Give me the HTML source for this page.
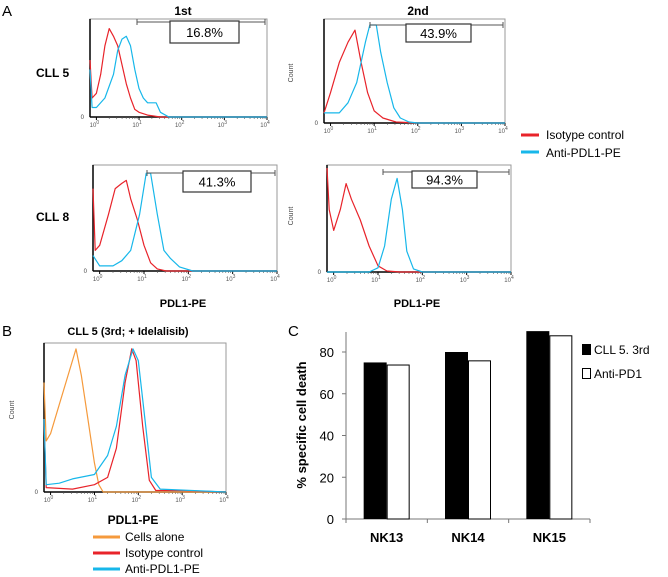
<!DOCTYPE html>
<html><head><meta charset="utf-8"><style>
body{margin:0;background:#fff}
svg{display:block;font-family:"Liberation Sans",sans-serif}
.b{font-weight:bold}
</style></head><body>
<svg id="s" width="668" height="577" viewBox="0 0 668 577">
<text x="2" y="16" font-size="15">A</text>
<text x="183" y="15" font-size="12" class="b" text-anchor="middle">1st</text>
<text x="418" y="15" font-size="12" class="b" text-anchor="middle">2nd</text>
<text x="36" y="77" font-size="12" class="b">CLL 5</text>
<text x="36" y="221" font-size="12" class="b">CLL 8</text>
<text x="183" y="307" font-size="11" class="b" text-anchor="middle">PDL1-PE</text>
<text x="417" y="307" font-size="11" class="b" text-anchor="middle">PDL1-PE</text>
<text x="293" y="73" font-size="7" fill="#444" transform="rotate(-90 293 73)" text-anchor="middle">Count</text>
<text x="293" y="216" font-size="7" fill="#444" transform="rotate(-90 293 216)" text-anchor="middle">Count</text>
<line x1="521" y1="135" x2="539" y2="135" stroke="#e8232a" stroke-width="3"/>
<text x="546" y="139" font-size="12">Isotype control</text>
<line x1="521" y1="152" x2="539" y2="152" stroke="#17b7ea" stroke-width="3"/>
<text x="546" y="157" font-size="12">Anti-PDL1-PE</text>

<text x="2" y="336" font-size="15">B</text>
<text x="128" y="335" font-size="11" class="b" text-anchor="middle">CLL 5 (3rd; + Idelalisib)</text>
<text x="14" y="410" font-size="7" fill="#444" transform="rotate(-90 14 410)" text-anchor="middle">Count</text>
<text x="133" y="524" font-size="12" class="b" text-anchor="middle">PDL1-PE</text>
<line x1="93" y1="537" x2="120" y2="537" stroke="#f59a3c" stroke-width="3"/>
<text x="125" y="541" font-size="12">Cells alone</text>
<line x1="93" y1="553" x2="120" y2="553" stroke="#e8232a" stroke-width="3"/>
<text x="125" y="557" font-size="12">Isotype control</text>
<line x1="93" y1="569" x2="120" y2="569" stroke="#17b7ea" stroke-width="3"/>
<text x="125" y="573" font-size="12">Anti-PDL1-PE</text>

<text x="288" y="336" font-size="15">C</text>
<text x="306" y="425" font-size="13" class="b" transform="rotate(-90 306 425)" text-anchor="middle">% specific cell death</text>
<rect x="582" y="344" width="9" height="11" fill="#000"/>
<text x="594" y="354" font-size="12">CLL 5. 3rd</text>
<rect x="582.5" y="368.5" width="8" height="10" fill="#fff" stroke="#000"/>
<text x="594" y="378" font-size="12">Anti-PD1</text>
</svg>
<script>
// Histogram data: [log10 intensity, fraction of max]
const a1Red=[[-0.15,0.6],[-0.1,0.2],[0,0.25],[0.1,0.45],[0.2,0.75],[0.3,0.93],[0.4,0.85],[0.5,0.75],[0.6,0.55],[0.7,0.35],[0.8,0.2],[0.9,0.08],[1.0,0.05],[1.2,0.02],[1.5,0],[4,0]];
const a1Cyan=[[-0.15,0.5],[-0.1,0.1],[0,0.1],[0.2,0.2],[0.4,0.45],[0.5,0.7],[0.6,0.82],[0.7,0.85],[0.8,0.75],[0.9,0.5],[1.0,0.3],[1.1,0.2],[1.2,0.15],[1.4,0.15],[1.5,0.05],[1.7,0],[4,0]];
const a2Red=[[-0.15,0.1],[0,0.3],[0.2,0.6],[0.4,0.8],[0.56,0.92],[0.7,0.6],[0.85,0.3],[1,0.12],[1.2,0.05],[1.5,0.01],[2,0],[4,0]];
const a2Cyan=[[-0.15,0.1],[0,0.1],[0.2,0.1],[0.4,0.2],[0.6,0.4],[0.8,0.8],[0.9,0.97],[1.05,0.97],[1.15,0.7],[1.3,0.4],[1.45,0.15],[1.6,0.05],[1.8,0.01],[2,0],[4,0]];
const a3Red=[[-0.15,0.8],[-0.1,0.2],[0,0.25],[0.2,0.55],[0.35,0.8],[0.5,0.85],[0.6,0.88],[0.7,0.7],[0.85,0.5],[1.0,0.25],[1.15,0.08],[1.3,0.02],[1.5,0],[4,0]];
const a3Cyan=[[-0.15,0.15],[0,0.05],[0.3,0.05],[0.5,0.1],[0.7,0.2],[0.9,0.55],[1.05,0.95],[1.15,0.95],[1.3,0.55],[1.45,0.2],[1.6,0.12],[1.8,0.04],[2.1,0],[4,0]];
const a4Red=[[-0.15,1.0],[-0.1,0.6],[0,0.4],[0.15,0.6],[0.28,0.85],[0.4,0.7],[0.6,0.5],[0.8,0.25],[1.0,0.06],[1.2,0.01],[1.5,0],[4,0]];
const a4Cyan=[[-0.15,0],[0.8,0],[1.0,0.04],[1.15,0.25],[1.3,0.7],[1.43,0.9],[1.55,0.6],[1.65,0.2],[1.8,0.03],[2,0],[4,0]];
const bOrange=[[-0.15,0.75],[-0.1,0.35],[0,0.4],[0.2,0.6],[0.4,0.8],[0.58,0.98],[0.7,0.8],[0.85,0.5],[1.0,0.2],[1.1,0.05],[1.2,0],[4,0]];
const bRed=[[-0.15,0.5],[-0.1,0.03],[0.5,0.02],[1.0,0.05],[1.3,0.1],[1.5,0.3],[1.7,0.75],[1.85,0.98],[1.95,0.9],[2.1,0.45],[2.25,0.08],[2.4,0.01],[3,0.01],[4,0]];
const bCyan=[[-0.15,0.5],[-0.1,0.05],[0.2,0.06],[0.5,0.09],[1.0,0.12],[1.3,0.25],[1.5,0.45],[1.7,0.8],[1.88,0.98],[2.0,0.9],[2.15,0.5],[2.3,0.1],[2.5,0.02],[4,0]];
const gateLabels=["16.8%","43.9%","41.3%","94.3%"];
const decadeLabels=["0","1","2","3","4"];
// Bar chart data
const categories=["NK13","NK14","NK15"];
const cllValues=[75,80,90];
const antiValues=[74,76,88];
const yTicks=[0,20,40,60,80];

const NS="http://www.w3.org/2000/svg";
const svg=document.getElementById('s');
function mk(tag,attrs,parent){const e=document.createElementNS(NS,tag);for(const k in attrs)e.setAttribute(k,attrs[k]);(parent||svg).appendChild(e);return e;}

function hist(name,p,series,gate){
  const g=mk('g',{});
  
  
  const xs=l=>p.x0+(l+0.15)/4.15*(p.x1-p.x0);
  const ys=f=>p.yb-f*(p.yb-p.yt);
  const fr=mk('rect',{x:p.x0,y:p.yt-3,width:p.x1-p.x0,height:p.yb-p.yt+3,fill:'none',stroke:'#999','stroke-width':1},g);
  
  
  mk('line',{x1:p.x0,y1:p.yt-3,x2:p.x0,y2:p.yb,stroke:'#000','stroke-width':1.5},g);
  mk('line',{x1:p.x0,y1:p.yb,x2:p.x1,y2:p.yb,stroke:'#000','stroke-width':1.5},g);
  const z=mk('text',{x:p.x0-6,y:p.yb+2,'font-size':6,fill:'#444','text-anchor':'end'},g);z.textContent='0';
  
  
  decadeLabels.forEach((d,i)=>{
    const x=xs(i);
    mk('line',{x1:x,y1:p.yb,x2:x,y2:p.yb+3,stroke:'#000'},g);
    for(let m=2;m<10&&i<4;m++){const xm=xs(i+Math.log10(m));mk('line',{x1:xm,y1:p.yb,x2:xm,y2:p.yb+2,stroke:'#555','stroke-width':0.6},g);}
    const t=mk('text',{x:x-2,y:p.yb+10,'font-size':6,fill:'#555','text-anchor':'middle'},g);
    t.textContent='10';
    
    
    const s=mk('tspan',{dy:-3,'font-size':5},t);s.textContent=d;
  });
  series.forEach(([data,col,sn])=>{
    const pl=mk('polyline',{points:data.map(d=>xs(d[0]).toFixed(1)+','+ys(d[1]).toFixed(1)).join(' '),fill:'none',stroke:col,'stroke-width':1.2,'stroke-linejoin':'round'},g);
    
    
  });
  if(gate){
    const gl=mk('g',{},g);
    
    
    mk('line',{x1:gate.g0,y1:gate.gy,x2:p.x1-2,y2:gate.gy,stroke:'#555'},gl);
    mk('line',{x1:gate.g0,y1:gate.gy-3,x2:gate.g0,y2:gate.gy+3,stroke:'#555'},gl);
    mk('line',{x1:p.x1-2,y1:gate.gy-3,x2:p.x1-2,y2:gate.gy+3,stroke:'#555'},gl);
    const r=mk('rect',{x:gate.bx,y:gate.by,width:gate.bw,height:gate.bh,fill:'#fff',stroke:'#333','stroke-width':1.2},g);
    
    
    const t=mk('text',{x:gate.bx+gate.bw/2,y:gate.by+gate.bh/2+5,'font-size':13,'text-anchor':'middle'},g);
    t.textContent=gate.label;
    
    
  }
}
const R='#e8232a',C='#17b7ea',O='#f59a3c';
hist('histogram-cll5-1st',{x0:90,x1:267,yt:22,yb:117},[[a1Red,R,'isotype-curve'],[a1Cyan,C,'anti-pdl1-curve']],{g0:137,gy:22,bx:170,by:21,bw:69,bh:22,label:gateLabels[0]});
hist('histogram-cll5-2nd',{x0:324,x1:505,yt:22,yb:123},[[a2Red,R,'isotype-curve'],[a2Cyan,C,'anti-pdl1-curve']],{g0:370,gy:25,bx:406,by:24,bw:65,bh:18,label:gateLabels[1]});
hist('histogram-cll8-1st',{x0:93,x1:277,yt:168,yb:271},[[a3Red,R,'isotype-curve'],[a3Cyan,C,'anti-pdl1-curve']],{g0:147,gy:173,bx:183,by:171,bw:68,bh:21,label:gateLabels[2]});
hist('histogram-cll8-2nd',{x0:327,x1:511,yt:168,yb:272},[[a4Red,R,'isotype-curve'],[a4Cyan,C,'anti-pdl1-curve']],{g0:383,gy:172,bx:412,by:171,bw:65,bh:17,label:gateLabels[3]});
hist('histogram-cll5-3rd',{x0:44,x1:226,yt:346,yb:492},[[bOrange,O,'cells-alone-curve'],[bRed,R,'isotype-curve'],[bCyan,C,'anti-pdl1-curve']],null);

// Bar chart
const bc=mk('g',{});


const ax0=346,ax1=590,yb=519,yTop80=352;
const yS=v=>yb-v*(yb-yTop80)/80;
const catW=(ax1-ax0)/categories.length;
mk('line',{x1:ax0,y1:332,x2:ax0,y2:yb,stroke:'#777'},bc);
mk('line',{x1:ax0,y1:yb,x2:ax1,y2:yb,stroke:'#777'},bc);
yTicks.forEach(v=>{
  mk('line',{x1:ax0-4,y1:yS(v),x2:ax0,y2:yS(v),stroke:'#777'},bc);
  const t=mk('text',{x:ax0-12,y:yS(v)+5,'font-size':13,'text-anchor':'end'},bc);
  t.textContent=v;
  
  
});
for(let i=0;i<=categories.length;i++){const x=ax0+i*catW;mk('line',{x1:x,y1:yb,x2:x,y2:yb+4,stroke:'#777'},bc);}
categories.forEach((c,i)=>{
  const cx=ax0+catW*(i+0.5);
  const bw=23;
  const b1=mk('rect',{x:cx-bw,y:yS(cllValues[i]),width:bw,height:yb-yS(cllValues[i]),fill:'#000'},bc);
  
  
  const b2=mk('rect',{x:cx+0.5,y:yS(antiValues[i])+0.5,width:bw-1,height:yb-yS(antiValues[i])-0.5,fill:'#fff',stroke:'#000','stroke-width':1},bc);
  
  
  const t=mk('text',{x:cx,y:yb+23,'font-size':13,'font-weight':'bold','text-anchor':'middle'},bc);
  t.textContent=c;
  
  
});
</script>
</body></html>
